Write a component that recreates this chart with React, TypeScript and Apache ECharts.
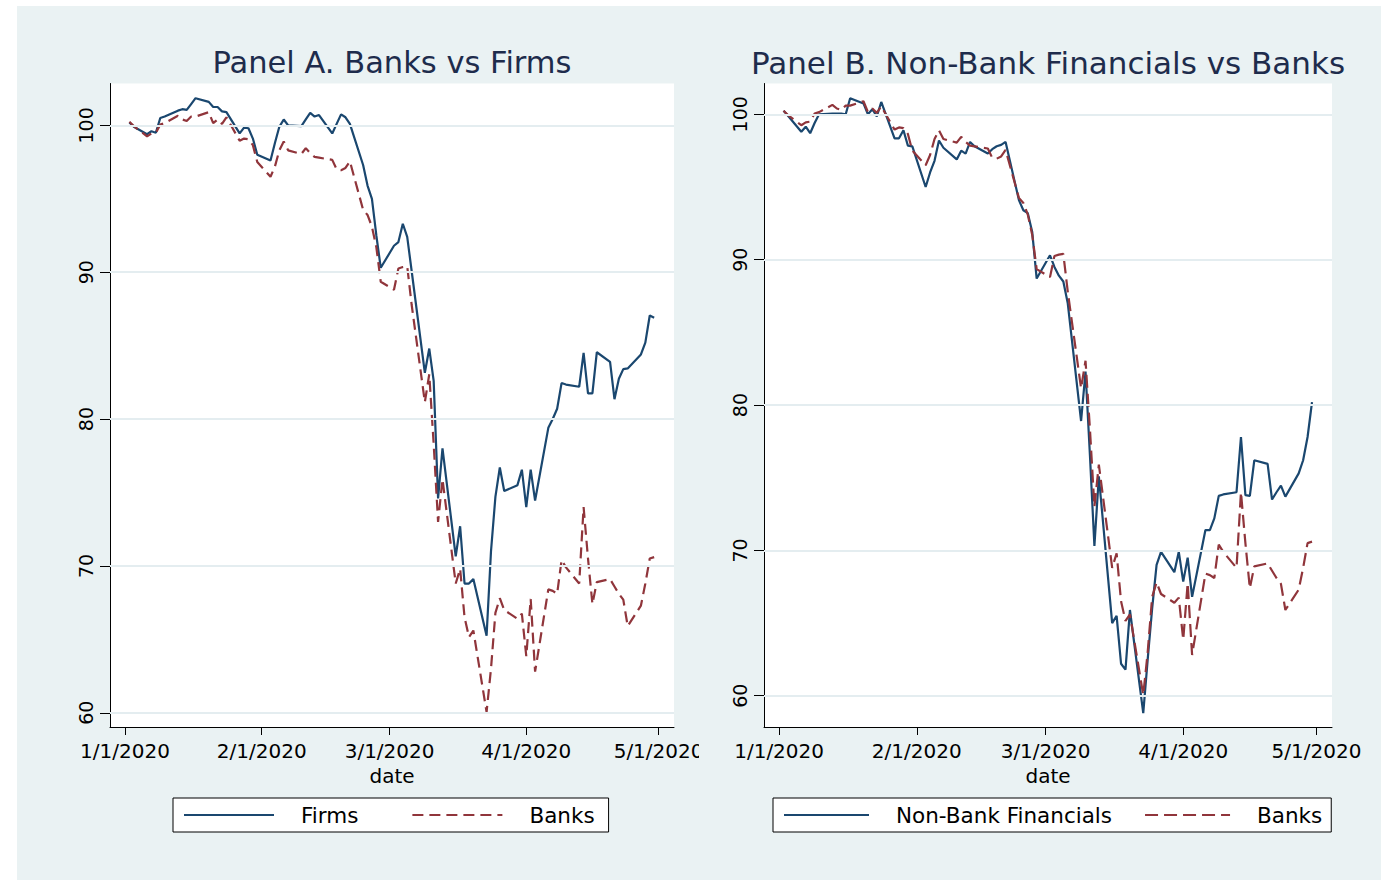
import { useEffect, useRef } from 'react';
import * as echarts from 'echarts';

// Trading days (weekdays) from 2 Jan to 30 Apr 2020
const dates = [
  '2020-01-02', '2020-01-03', '2020-01-06', '2020-01-07', '2020-01-08', '2020-01-09', '2020-01-10',
  '2020-01-13', '2020-01-14', '2020-01-15', '2020-01-16', '2020-01-17',
  '2020-01-20', '2020-01-21', '2020-01-22', '2020-01-23', '2020-01-24',
  '2020-01-27', '2020-01-28', '2020-01-29', '2020-01-30', '2020-01-31',
  '2020-02-03', '2020-02-04', '2020-02-05', '2020-02-06', '2020-02-07',
  '2020-02-10', '2020-02-11', '2020-02-12', '2020-02-13', '2020-02-14',
  '2020-02-17', '2020-02-18', '2020-02-19', '2020-02-20', '2020-02-21',
  '2020-02-24', '2020-02-25', '2020-02-26', '2020-02-27', '2020-02-28',
  '2020-03-02', '2020-03-03', '2020-03-04', '2020-03-05', '2020-03-06',
  '2020-03-09', '2020-03-10', '2020-03-11', '2020-03-12', '2020-03-13',
  '2020-03-16', '2020-03-17', '2020-03-18', '2020-03-19', '2020-03-20',
  '2020-03-23', '2020-03-24', '2020-03-25', '2020-03-26', '2020-03-27',
  '2020-03-30', '2020-03-31',
  '2020-04-01', '2020-04-02', '2020-04-03',
  '2020-04-06', '2020-04-07', '2020-04-08', '2020-04-09', '2020-04-10',
  '2020-04-13', '2020-04-14', '2020-04-15', '2020-04-16', '2020-04-17',
  '2020-04-20', '2020-04-21', '2020-04-22', '2020-04-23', '2020-04-24',
  '2020-04-27', '2020-04-28', '2020-04-29', '2020-04-30',
];

const firms = [
  100.2, 99.9, 99.4, 99.6, 99.5, 100.5, 100.6, 101.0, 101.1, 101.05, 101.45, 101.85,
  101.6, 101.25, 101.25, 100.95, 100.9, 99.45, 99.85, 99.8, 99.1, 98.0,
  97.6, 98.8, 99.9, 100.4, 100.0, 99.95, 100.4, 100.85, 100.6, 100.7,
  99.45, 100.1, 100.75, 100.55, 100.1, 97.3, 95.9, 95.0, 92.5, 90.3,
  91.8, 92.05, 93.3, 92.4, 90.1, 83.15, 84.8, 82.6, 74.6, 78.0,
  70.65, 72.7, 68.8, 68.8, 69.1, 65.25, 71.0, 74.7, 76.7, 75.1, 75.5, 76.55,
  74.0, 76.55, 74.45, 79.4, 80.0, 80.7, 82.45, 82.35, 82.2, 84.5, 81.75, 81.75, 84.55,
  83.9, 81.35, 82.75, 83.4, 83.45, 84.4, 85.2, 87.05, 86.9,
];

const banks = [
  100.25, 99.95, 99.25, 99.45, 99.5, 100.05, 100.15, 100.65, 100.4, 100.3, 100.6, 100.6,
  100.9, 100.15, 100.4, 100.1, 100.55, 98.95, 99.1, 99.05, 98.65, 97.5,
  96.5, 97.2, 98.3, 98.9, 98.3, 98.05, 98.45, 98.1, 97.85, 97.8,
  97.65, 97.0, 96.95, 97.1, 97.55, 94.25, 93.9, 93.1, 91.7, 89.35,
  88.8, 90.25, 90.35, 90.4, 87.8, 81.15, 83.05, 78.3, 73.0, 75.9,
  68.8, 69.8, 66.5, 65.15, 65.6, 60.05, 63.0, 66.8, 67.8, 67.0, 66.4, 66.75,
  63.85, 67.75, 62.8, 68.4, 68.3, 68.1, 70.4, 69.9, 68.8, 74.0, 70.5, 67.4, 68.9,
  69.1, 68.6, 68.1, 67.7, 65.9, 67.3, 68.8, 70.5, 70.6,
];

const nonBankFinancials = [
  100.25, 99.9, 98.8, 99.15, 98.7, 99.4, 100.0, 100.05, 100.05, 100.05, 100.0, 101.1,
  100.75, 100.0, 100.35, 99.85, 100.85, 98.35, 98.35, 98.9, 97.85, 97.8,
  95.0, 96.0, 96.8, 98.2, 97.7, 96.9, 97.5, 97.3, 98.1, 97.8,
  97.3, 97.6, 97.8, 97.9, 98.1, 94.1, 93.4, 93.2, 91.9, 88.7,
  90.3, 89.5, 88.9, 88.5, 87.0, 78.9, 82.3, 76.5, 70.3, 75.1,
  65.0, 65.5, 62.2, 61.8, 65.9, 58.8, 62.5, 66.0, 69.0, 69.9, 68.5, 69.9,
  67.85, 69.5, 66.8, 71.4, 71.4, 72.2, 73.75, 73.85, 74.0, 77.8, 73.8, 73.75, 76.2,
  75.95, 73.5, 74.0, 74.45, 73.7, 75.3, 76.2, 77.8, 80.2,
];

const yTicks = [60, 70, 80, 90, 100];
const xTicks = ['2020-01-01', '2020-02-01', '2020-03-01', '2020-04-01', '2020-05-01'];

const FONT = "'DejaVu Sans', 'Liberation Sans', sans-serif";
const BG = '#EAF2F3';
const GRID_COLOR = '#E4EDF0';
const NAVY = '#1A476F';
const MAROON = '#90353B';
const TITLE_COLOR = '#1E2C4C';

const DAY = 86400000;
const toTime = (s: string) => Date.UTC(+s.slice(0, 4), +s.slice(5, 7) - 1, +s.slice(8, 10));
const JAN1 = toTime('2020-01-01');
const X_MIN = JAN1 - 3.4 * DAY;
const X_MAX = JAN1 + 124.5 * DAY;
const xTickTimes = xTicks.map(toTime);

const fmtDate = (v: number) => {
  const d = new Date(v);
  return `${d.getUTCMonth() + 1}/${d.getUTCDate()}/${d.getUTCFullYear()}`;
};

const pairs = (vals: number[]) => dates.map((d, i) => [toTime(d), vals[i]]);

const axisLineStyle = { color: '#000', width: 1 };

// Date axis: values are UTC timestamps, labelled m/d/yyyy at month starts
const makeXAxis = (gridIndex: number) => ({
  type: 'value',
  gridIndex,
  min: X_MIN,
  max: X_MAX,
  name: 'date',
  nameLocation: 'middle',
  nameGap: 36,
  nameTextStyle: { fontFamily: FONT, fontSize: 20, color: '#000' },
  axisLine: { show: true, onZero: false, lineStyle: axisLineStyle },
  axisTick: { show: true, customValues: xTickTimes, length: 8, lineStyle: axisLineStyle },
  axisLabel: {
    customValues: xTickTimes,
    formatter: (v: number) => fmtDate(v),
    margin: 14,
    fontFamily: FONT,
    fontSize: 20,
    color: '#000',
    hideOverlap: false,
  },
  splitLine: { show: false },
});

const makeYAxis = (gridIndex: number, min: number, max: number) => ({
  type: 'value',
  gridIndex,
  min,
  max,
  axisLine: { show: true, onZero: false, lineStyle: axisLineStyle },
  axisTick: { show: true, customValues: yTicks, length: 10, lineStyle: axisLineStyle },
  axisLabel: {
    customValues: yTicks,
    rotate: 90,
    margin: 15,
    fontFamily: FONT,
    fontSize: 19,
    color: '#000',
  },
  splitLine: { show: false },
});

// Horizontal reference lines at the labelled values
const gridLines = (axisIndex: number) => ({
  type: 'line',
  xAxisIndex: axisIndex,
  yAxisIndex: axisIndex,
  data: [],
  silent: true,
  z: 1,
  markLine: {
    silent: true,
    symbol: ['none', 'none'],
    label: { show: false },
    lineStyle: { color: GRID_COLOR, width: 2, type: 'solid' },
    emphasis: { disabled: true },
    data: yTicks.map((v) => ({ yAxis: v })),
  },
});

const lineSeries = (name: string, vals: number[], axisIndex: number, color: string, dash?: number[]) => ({
  type: 'line',
  name,
  xAxisIndex: axisIndex,
  yAxisIndex: axisIndex,
  data: pairs(vals),
  symbol: 'none',
  showSymbol: false,
  z: 3,
  lineStyle: { color, width: 2.2, type: dash ?? 'solid' },
  itemStyle: { color },
  emphasis: { disabled: true },
});

const legendBase = {
  orient: 'horizontal',
  itemHeight: 14,
  backgroundColor: '#fff',
  borderColor: '#000',
  borderWidth: 1,
  borderRadius: 0,
  selectedMode: false,
  itemStyle: { opacity: 0 },
  textStyle: { fontFamily: FONT, fontSize: 21.5, color: '#000', padding: [0, 0, 0, 22] },
};

export default function App() {
  const ref = useRef<HTMLDivElement>(null);

  useEffect(() => {
    if (!ref.current) return;
    const chart = echarts.init(ref.current, undefined, { renderer: 'svg' });
    chart.setOption({
      animation: false,
      backgroundColor: '#fff',
      textStyle: { fontFamily: FONT },
      title: [
        {
          text: 'Panel A. Banks vs Firms',
          left: 392,
          top: 47,
          textAlign: 'center',
          padding: 0,
          textStyle: { fontFamily: FONT, fontSize: 30.5, fontWeight: 'normal', color: TITLE_COLOR },
        },
        {
          text: 'Panel B. Non-Bank Financials vs Banks',
          left: 1048,
          top: 47,
          textAlign: 'center',
          padding: 0,
          textStyle: { fontFamily: FONT, fontSize: 31, fontWeight: 'normal', color: TITLE_COLOR },
        },
      ],
      graphic: [
        {
          type: 'rect',
          z: -10,
          silent: true,
          shape: { x: 17, y: 6, width: 1364, height: 874 },
          style: { fill: BG },
        },
        {
          // the left panel's last date label is cut at the panel boundary
          type: 'rect',
          z: 100,
          silent: true,
          shape: { x: 699, y: 736, width: 30, height: 32 },
          style: { fill: BG },
        },
      ],
      grid: [
        {
          left: 110, top: 83.5, width: 564, height: 643.5,
          show: true, backgroundColor: '#fff', borderWidth: 0,
          containLabel: false, outerBoundsMode: 'none',
        },
        {
          left: 764, top: 83.5, width: 568, height: 643.5,
          show: true, backgroundColor: '#fff', borderWidth: 0,
          containLabel: false, outerBoundsMode: 'none',
        },
      ],
      xAxis: [makeXAxis(0), makeXAxis(1)],
      yAxis: [makeYAxis(0, 59.03, 102.85), makeYAxis(1, 57.85, 102.12)],
      legend: [
        {
          ...legendBase,
          left: 173,
          top: 798,
          itemWidth: 90,
          itemGap: 53,
          padding: [6, 14, 6, 10],
          data: ['Firms', 'Banks'],
        },
        {
          ...legendBase,
          left: 773,
          top: 798,
          itemWidth: 85,
          itemGap: 32,
          padding: [6, 9, 6, 10],
          data: ['Non-Bank Financials', { name: 'Banks', lineStyle: { type: [13, 6] } }],
        },
      ],
      series: [
        gridLines(0),
        gridLines(1),
        lineSeries('Firms', firms, 0, NAVY),
        lineSeries('Banks', banks, 0, MAROON, [11, 6]),
        lineSeries('Non-Bank Financials', nonBankFinancials, 1, NAVY),
        lineSeries('Banks', banks, 1, MAROON, [13, 6]),
      ],
    });
    return () => chart.dispose();
  }, []);

  return (
    <div
      ref={ref}
      style={{ position: 'absolute', left: 0, top: 0, width: 1394, height: 880, background: '#fff' }}
    />
  );
}
